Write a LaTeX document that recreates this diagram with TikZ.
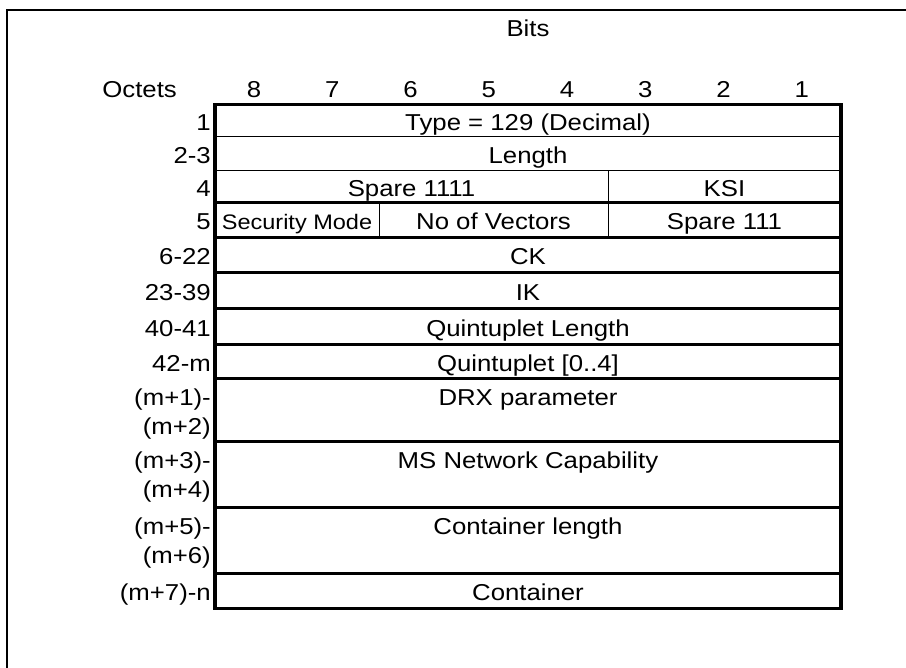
\documentclass[tikz,border=0pt]{standalone}
\usepackage{fontspec}
\setmainfont{Liberation Sans}[FakeStretch=1.12]
\begin{document}
\begin{tikzpicture}[x=1pt,y=-1pt,
  thickrule/.style={line width=3.2pt},
  thinrule/.style={line width=1pt},
  frame/.style={line width=2.4pt},
  lbl/.style={anchor=base, inner sep=0pt, font=\fontsize{23}{27}\selectfont},
  sml/.style={anchor=base, inner sep=0pt, font=\fontsize{21}{25}\selectfont},
  oct/.style={anchor=base east, inner sep=0pt, font=\fontsize{23}{27}\selectfont}]
\useasboundingbox (0,0) rectangle (906,668);
\fill[white] (0,0) rectangle (906,668);
% outer frame
\draw[frame] (906,10) -- (7,10) -- (7,668);
% header
\node[lbl] (bits) at (528,36.5) {Bits};
\node[oct] (octets) at (177,97.5) {Octets};
\foreach \b [count=\i from 0] in {8,7,6,5,4,3,2,1}
  \node[lbl] (b\b) at ({215+78.25*(\i+0.5)},97.5) {\b};
% horizontal rules
\foreach \yy in {237.3,272.7,308.3,344.3,378.3,441.7,507.7,573.3,202.6}
  \draw[thickrule] (215,\yy) -- (841,\yy);
\foreach \yy in {136.8,170.2}
  \draw[thinrule] (215,\yy) -- (841,\yy);
% vertical dividers
\draw[thinrule] (608,170.2) -- (608,237.3);
\draw[thinrule] (379,202.6) -- (379,237.3);
% outer table border
\draw[thickrule] (215,104.5) rectangle (841,608.3);
% octet labels
\node[oct] (o1) at (211,130.4) {1};
\node[oct] (o2) at (211,163.2) {2-3};
\node[oct] (o4) at (211,196.2) {4};
\node[oct] (o5) at (211,229.7) {5};
\node[oct] (o6) at (211,264.8) {6-22};
\node[oct] (o23) at (211,300.2) {23-39};
\node[oct] (o40) at (211,336.2) {40-41};
\node[oct] (o42) at (211,371.2) {42-m};
\node[oct] (om1) at (211,405.6) {(m+1)-};
\node[oct] (om2) at (211,434.4) {(m+2)};
\node[oct] (om3) at (211,469) {(m+3)-};
\node[oct] (om4) at (211,497.8) {(m+4)};
\node[oct] (om5) at (211,535) {(m+5)-};
\node[oct] (om6) at (211,563.8) {(m+6)};
\node[oct] (om7) at (211,600.6) {(m+7)-n};
% field texts
\node[lbl] (type) at (528,130.4) {Type = 129 (Decimal)};
\node[lbl] (len) at (528,163.2) {Length};
\node[lbl] (spare4) at (411.5,196.2) {Spare 1111};
\node[lbl] (ksi) at (724.5,196.2) {KSI};
\node[sml] (secmode) at (297,229.7) {Security Mode};
\node[lbl] (novec) at (493.5,229.7) {No of Vectors};
\node[lbl] (spare3) at (724.5,229.7) {Spare 111};
\node[lbl] (ck) at (528,264.8) {CK};
\node[lbl] (ik) at (528,300.2) {IK};
\node[lbl] (qlen) at (528,336.2) {Quintuplet Length};
\node[lbl] (quin) at (528,371.2) {Quintuplet [0..4]};
\node[lbl] (drx) at (528,405.6) {DRX parameter};
\node[lbl] (msnc) at (528,469) {MS Network Capability};
\node[lbl] (clen) at (528,535) {Container length};
\node[lbl] (cont) at (528,600.6) {Container};
\end{tikzpicture}
\end{document}
